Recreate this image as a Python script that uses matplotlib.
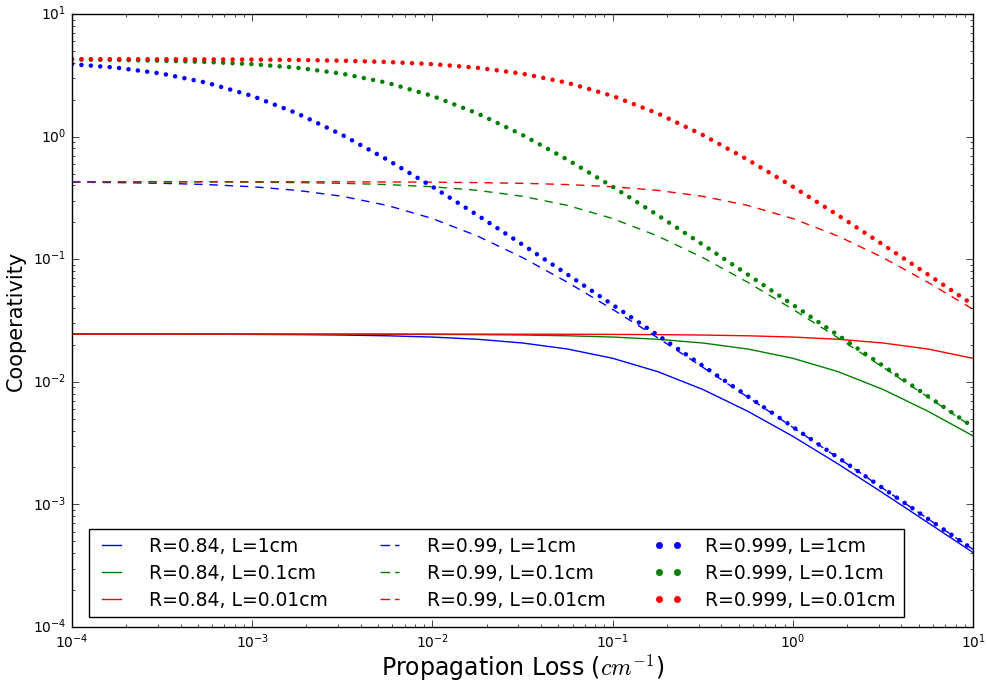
import matplotlib
matplotlib.use('Agg')
import matplotlib.pyplot as plt
from matplotlib.lines import Line2D

plt.style.use('classic')
plt.rcParams['mathtext.fontset'] = 'cm'

# propagation loss (cm^-1), quarter-decade steps
loss = [1.0e-4, 1.78e-4, 3.16e-4, 5.62e-4, 1.0e-3, 1.78e-3, 3.16e-3, 5.62e-3,
        1.0e-2, 1.78e-2, 3.16e-2, 5.62e-2, 0.1, 0.178, 0.316, 0.562,
        1.0, 1.78, 3.16, 5.62, 10.0]

# R = 0.84
r084_1cm = [0.02449, 0.02448, 0.02446, 0.02442, 0.02436, 0.02425, 0.02406, 0.02373,
            0.02317, 0.02223, 0.02073, 0.01851, 0.01555, 0.01210, 0.00867, 0.00575,
            0.00359, 0.00214, 0.00124, 0.00071, 0.000405]
r084_01cm = [0.0245, 0.0245, 0.0245, 0.02449, 0.02449, 0.02448, 0.02446, 0.02442,
             0.02436, 0.02425, 0.02406, 0.02373, 0.02317, 0.02223, 0.02073, 0.01851,
             0.01555, 0.01210, 0.00867, 0.00575, 0.00362]
r084_001cm = [0.0245, 0.0245, 0.0245, 0.0245, 0.0245, 0.0245, 0.0245, 0.0245,
              0.02449, 0.02448, 0.02446, 0.02442, 0.02436, 0.02425, 0.02406, 0.02373,
              0.02317, 0.02223, 0.02073, 0.01851, 0.01555]

# R = 0.99
r099_1cm = [0.4248, 0.4215, 0.4159, 0.4062, 0.3900, 0.3642, 0.3259, 0.2746,
            0.2145, 0.1544, 0.1031, 0.06477, 0.0390, 0.02284, 0.01315, 0.007496,
            0.004248, 0.002399, 0.001352, 0.000762, 0.000429]
r099_01cm = [0.4286, 0.4282, 0.4276, 0.4266, 0.4248, 0.4215, 0.4159, 0.4062,
             0.3900, 0.3642, 0.3259, 0.2746, 0.2145, 0.1544, 0.1031, 0.06477,
             0.0390, 0.02284, 0.01315, 0.007496, 0.004248]
r099_001cm = [0.4290, 0.4289, 0.4289, 0.4288, 0.4286, 0.4282, 0.4276, 0.4266,
              0.4248, 0.4215, 0.4159, 0.4062, 0.3900, 0.3642, 0.3259, 0.2746,
              0.2145, 0.1544, 0.1031, 0.06477, 0.0390]

# R = 0.999
r0999_1cm = [3.900, 3.642, 3.259, 2.746, 2.145, 1.544, 1.031, 0.6477,
             0.390, 0.2284, 0.1315, 0.07496, 0.04248, 0.02399, 0.01352, 0.007616,
             0.004286, 0.002411, 0.001356, 0.000763, 0.000429]
r0999_01cm = [4.248, 4.215, 4.159, 4.062, 3.900, 3.642, 3.259, 2.746,
              2.145, 1.544, 1.031, 0.6477, 0.390, 0.2284, 0.1315, 0.07496,
              0.04248, 0.02399, 0.01352, 0.007616, 0.004286]
r0999_001cm = [4.286, 4.282, 4.276, 4.266, 4.248, 4.215, 4.159, 4.062,
               3.900, 3.642, 3.259, 2.746, 2.145, 1.544, 1.031, 0.6477,
               0.390, 0.2284, 0.1315, 0.07496, 0.04248]

colors = ['b', 'g', 'r']
lengths = ['1cm', '0.1cm', '0.01cm']

fig = plt.figure(figsize=(9.88, 6.86), dpi=100, facecolor='white')
ax = fig.add_axes([0.0729, 0.086, 0.912, 0.8936])

handles = []
labels = []

for c, L, y in zip(colors, lengths, [r084_1cm, r084_01cm, r084_001cm]):
    ln, = ax.plot(loss, y, color=c, lw=1.0)
    handles.append(ln)
    labels.append('R=0.84, L=' + L)

for c, L, y in zip(colors, lengths, [r099_1cm, r099_01cm, r099_001cm]):
    ax.plot(loss, y, color=c, lw=1.0, linestyle=(0, (6, 5)))
    handles.append(Line2D([], [], color=c, lw=1.0, linestyle=(0, (7, 3.5))))
    labels.append('R=0.99, L=' + L)

for c, L, y in zip(colors, lengths, [r0999_1cm, r0999_01cm, r0999_001cm]):
    # classic style keeps dash patterns unscaled, so these are points
    ax.plot(loss, y, color=c, lw=3.3, linestyle=(0, (0.001, 6.8)),
            dash_capstyle='round')
    handles.append(Line2D([], [], color=c, marker='o', ms=4.5, mec=c,
                          linestyle='None'))
    labels.append('R=0.999, L=' + L)

ax.set_xscale('log')
ax.set_yscale('log')
ax.set_xlim(1e-4, 10)
ax.set_ylim(1e-4, 10)

ax.tick_params(which='both', direction='in', top=True, right=True, labelsize=10)
ax.tick_params(which='major', length=5)
ax.tick_params(which='minor', length=2.5)

ax.set_xlabel(r'Propagation Loss ($cm^{-1}$)', fontsize=17, labelpad=1)
ax.set_ylabel('Cooperativity', fontsize=15, labelpad=5)

leg = ax.legend(handles, labels, ncol=3, loc='lower left',
                bbox_to_anchor=(0.0189, 0.0163), borderaxespad=0,
                fontsize=13.5, numpoints=2, handlelength=1.6,
                handletextpad=1.2, columnspacing=2.5, labelspacing=0.42,
                fancybox=False)
leg.get_frame().set_edgecolor('black')

fig.savefig('out.png', dpi=100, facecolor='white')
